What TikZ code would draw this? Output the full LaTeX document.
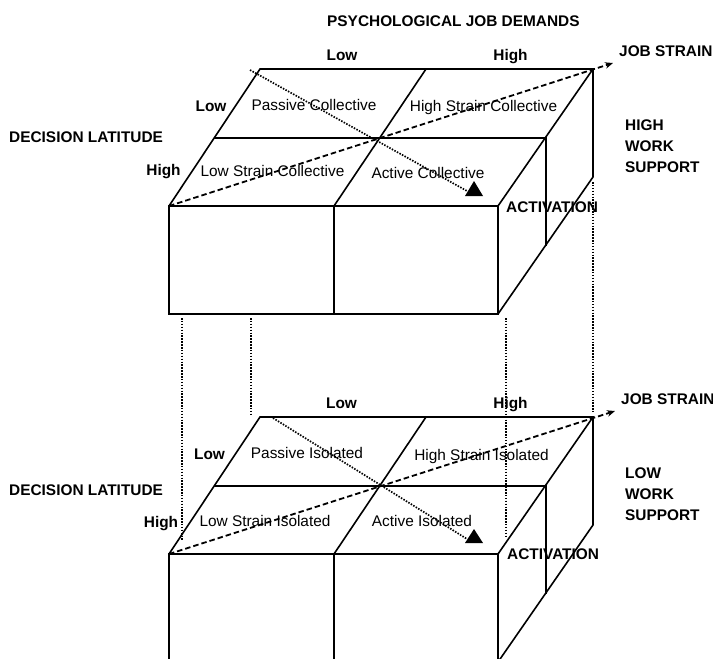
\documentclass[tikz,border=0pt]{standalone}
\usepackage{fontspec}
\setmainfont{Liberation Sans}
\usetikzlibrary{arrows.meta}

\begin{document}
\begin{tikzpicture}[x=1pt, y=-1pt,
  lbl/.style={font=\fontsize{15.4}{21}\selectfont\bfseries, inner sep=0pt, text height=11pt, text depth=0pt},
  cell/.style={font=\fontsize{15.4}{21}\selectfont, inner sep=0pt, text height=11pt, text depth=0pt},
  edge/.style={line width=1.6pt, line join=miter},
  dotline/.style={line width=1.7pt, dash pattern=on 1.5pt off 1.4pt},
  strainline/.style={line width=1.8pt, dash pattern=on 5.5pt off 3pt, -{Stealth[length=8pt,width=6.5pt]}}]

% Page size of the reference
\clip (0,0) rectangle (713,659);

% Upper block (high work support)
\coordinate (tFL) at (169,206);
\coordinate (tFR) at (498,206);
\coordinate (tBL) at (260,69);
\coordinate (tBR) at (593,69);
\draw[edge] (tFL) -- (tBL) -- (tBR) -- (tFR);
\draw[edge] (tFL) rectangle (498,314);
\draw[edge] (334,206) -- (334,314);
\draw[edge] (334,206) -- (426,69);
\draw[edge] (214,138) -- (546,138) -- (546,246);
\draw[edge] (tBR) -- (593,177) -- (498,314);
\draw[dotline] (250,70) -- (467,191);
\fill (474,181) -- (465,196) -- (483,196) -- cycle;
\draw[strainline] (tFL) -- (613,63);

% Lower block (low work support)
\coordinate (bFL) at (169,554);
\coordinate (bFR) at (498,554);
\coordinate (bBL) at (260,417);
\coordinate (bBR) at (593,417);
\draw[edge] (bFL) -- (bBL) -- (bBR) -- (bFR);
\draw[edge] (bFL) rectangle (498,662);
\draw[edge] (334,554) -- (334,662);
\draw[edge] (334,554) -- (426,417);
\draw[edge] (214,486) -- (546,486) -- (546,594);
\draw[edge] (bBR) -- (593,525) -- (498,662);
\draw[dotline] (273,418) -- (467,539);
\fill (474,529) -- (465,543) -- (483,543) -- cycle;
\draw[strainline] (bFL) -- (615,411);

% Dotted drop lines between the blocks
\draw[dotline] (182,318) -- (182,540);
\draw[dotline] (251,318) -- (251,415);
\draw[dotline] (506,318) -- (506,538);
\draw[dotline] (593,182) -- (593,412);

% Labels, upper block
\node[lbl, anchor=west] (demands) at (327,21) {PSYCHOLOGICAL JOB DEMANDS};
\node[lbl] (demLowT) at (342,55) {Low};
\node[lbl] (demHighT) at (510.5,55) {High};
\node[lbl, anchor=west] (strainT) at (619,51) {JOB STRAIN};
\node[lbl, anchor=west] (latitudeT) at (9,137) {DECISION LATITUDE};
\node[lbl] (decLowT) at (211,106) {Low};
\node[lbl] (decHighT) at (163.5,170) {High};
\node[lbl, anchor=north west, text height=, text depth=, align=left] (supportT) at (625,119.5) {HIGH\\WORK\\SUPPORT};
\node[lbl, anchor=west] (activT) at (506,207) {ACTIVATION};
\node[cell] (passiveT) at (314,105) {Passive Collective};
\node[cell] (highstrainT) at (483.5,106) {High Strain Collective};
\node[cell] (lowstrainT) at (272.5,171) {Low Strain Collective};
\node[cell] (activeT) at (428,173) {Active Collective};

% Labels, lower block
\node[lbl] (demLowB) at (341.5,403) {Low};
\node[lbl] (demHighB) at (510.5,403) {High};
\node[lbl, anchor=west] (strainB) at (621,399) {JOB STRAIN};
\node[lbl, anchor=west] (latitudeB) at (9,490) {DECISION LATITUDE};
\node[lbl] (decLowB) at (209.5,454) {Low};
\node[lbl] (decHighB) at (161,522) {High};
\node[lbl, anchor=north west, text height=, text depth=, align=left] (supportB) at (625,467.5) {LOW\\WORK\\SUPPORT};
\node[lbl, anchor=west] (activB) at (507,554) {ACTIVATION};
\node[cell] (passiveB) at (307,453) {Passive Isolated};
\node[cell] (highstrainB) at (481.5,455) {High Strain Isolated};
\node[cell] (lowstrainB) at (265,521) {Low Strain Isolated};
\node[cell] (activeB) at (422,521) {Active Isolated};
\end{tikzpicture}
\end{document}
